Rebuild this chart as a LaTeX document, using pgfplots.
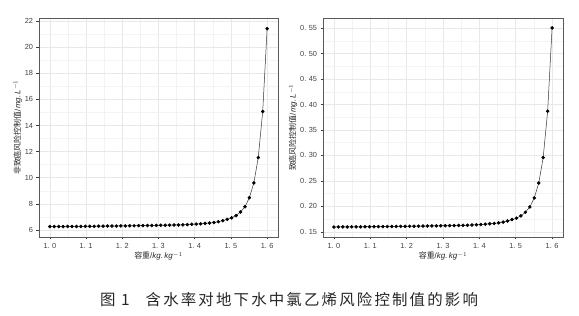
\documentclass[border=0pt]{standalone}
\usepackage{pgfplots}
\pgfplotsset{compat=1.18}
\usepackage{pgfplotstable}
\usepackage{fontspec}
\setmainfont{Liberation Sans}
\newfontfamily\cjk{Noto Sans CJK SC}
\newfontfamily\cjkcap[LetterSpace=14]{Noto Sans CJK SC}
\definecolor{gridc}{RGB}{232,232,232}
\definecolor{minorc}{RGB}{243,243,243}
\definecolor{tickc}{RGB}{60,60,60}

\pgfplotstableread{
x y
1.0000 6.26
1.0122 6.26
1.0245 6.26
1.0367 6.26
1.0490 6.27
1.0612 6.27
1.0735 6.27
1.0857 6.27
1.0980 6.28
1.1102 6.28
1.1224 6.28
1.1347 6.29
1.1469 6.29
1.1592 6.30
1.1714 6.30
1.1837 6.30
1.1959 6.31
1.2082 6.31
1.2204 6.32
1.2327 6.32
1.2449 6.33
1.2571 6.33
1.2694 6.34
1.2816 6.34
1.2939 6.35
1.3061 6.36
1.3184 6.36
1.3306 6.37
1.3429 6.38
1.3551 6.38
1.3673 6.39
1.3796 6.41
1.3918 6.43
1.4041 6.45
1.4163 6.47
1.4286 6.50
1.4408 6.53
1.4531 6.57
1.4653 6.63
1.4776 6.71
1.4898 6.81
1.5020 6.93
1.5143 7.10
1.5265 7.38
1.5388 7.78
1.5510 8.47
1.5633 9.60
1.5755 11.54
1.5878 15.07
1.6000 21.41
}\left

\pgfplotstableread{
x y
1.0000 0.1594
1.0122 0.1595
1.0245 0.1596
1.0367 0.1596
1.0490 0.1597
1.0612 0.1598
1.0735 0.1598
1.0857 0.1599
1.0980 0.1600
1.1102 0.1601
1.1224 0.1602
1.1347 0.1602
1.1469 0.1603
1.1592 0.1605
1.1714 0.1606
1.1837 0.1607
1.1959 0.1608
1.2082 0.1609
1.2204 0.1610
1.2327 0.1611
1.2449 0.1613
1.2571 0.1614
1.2694 0.1615
1.2816 0.1617
1.2939 0.1618
1.3061 0.1620
1.3184 0.1622
1.3306 0.1623
1.3429 0.1625
1.3551 0.1627
1.3673 0.1629
1.3796 0.1633
1.3918 0.1638
1.4041 0.1643
1.4163 0.1650
1.4286 0.1657
1.4408 0.1665
1.4531 0.1675
1.4653 0.1691
1.4776 0.1712
1.4898 0.1740
1.5020 0.1768
1.5143 0.1812
1.5265 0.1884
1.5388 0.1988
1.5510 0.2166
1.5633 0.2457
1.5755 0.2958
1.5878 0.3868
1.6000 0.5504
}\right

\pgfplotsset{
  myax/.style={
    scale only axis,
    anchor=south west,
    width=239bp, height=219bp,
    xmin=0.97, xmax=1.63,
    xtick={1.0,1.1,1.2,1.3,1.4,1.5,1.6},
    xticklabels={1.\,\,0,1.\,\,1,1.\,\,2,1.\,\,3,1.\,\,4,1.\,\,5,1.\,\,6},
    minor x tick num=1,
    minor y tick num=1,
    grid=both,
    major grid style={color=gridc, line width=0.5bp},
    minor grid style={color=minorc, line width=0.4bp},
    axis line style={color=black!65, line width=0.9bp},
    tick align=outside,
    major tick length=2.5bp,
    minor tick length=0pt,
    tick style={color=tickc, line width=0.5bp},
    xtick pos=bottom, ytick pos=left,
    ticklabel style={font=\fontsize{7.4}{8}\selectfont, text=black!75},
    label style={font=\fontsize{8}{9}\selectfont, text=black!85},
    xlabel={{\cjk 容重}/\textit{kg.\,kg}$^{-1}$},
    xlabel style={yshift=3bp},
    ylabel style={yshift=-4bp},
    /pgf/number format/assume math mode=true,
  },
  myplot/.style={color=black!80, line width=0.5bp, mark=*, mark size=1.5bp,
    mark options={fill=black, draw=black}},
}

\begin{document}
\begin{tikzpicture}
\path[use as bounding box] (0,0) rectangle (579bp,316bp);
\begin{axis}[myax, at={(39bp,79bp)},
  ymin=5.46, ymax=22.23,
  ytick={6,8,10,12,14,16,18,20,22},
  ylabel={{\cjk 非致癌风险控制值}/\textit{mg.\,L}$^{-1}$},
]
\addplot[myplot] table[x=x,y=y]{\left};
\end{axis}
\begin{axis}[myax, at={(323bp,79bp)}, width=240bp,
  ymin=0.1398, ymax=0.5699,
  ytick={0.15,0.20,0.25,0.30,0.35,0.40,0.45,0.50,0.55},
  yticklabels={0.\,\,15,0.\,\,20,0.\,\,25,0.\,\,30,0.\,\,35,0.\,\,40,0.\,\,45,0.\,\,50,0.\,\,55},
  ylabel={{\cjk 致癌风险控制值}/\textit{mg.\,L}$^{-1}$},
]
\addplot[myplot] table[x=x,y=y]{\right};
\end{axis}
\node[font=\cjkcap\fontsize{15.5}{17}\selectfont, text=black!85, inner sep=0pt] at (289bp,16bp) {图 1\hspace{16bp}含水率对地下水中氯乙烯风险控制值的影响};
\end{tikzpicture}
\end{document}
